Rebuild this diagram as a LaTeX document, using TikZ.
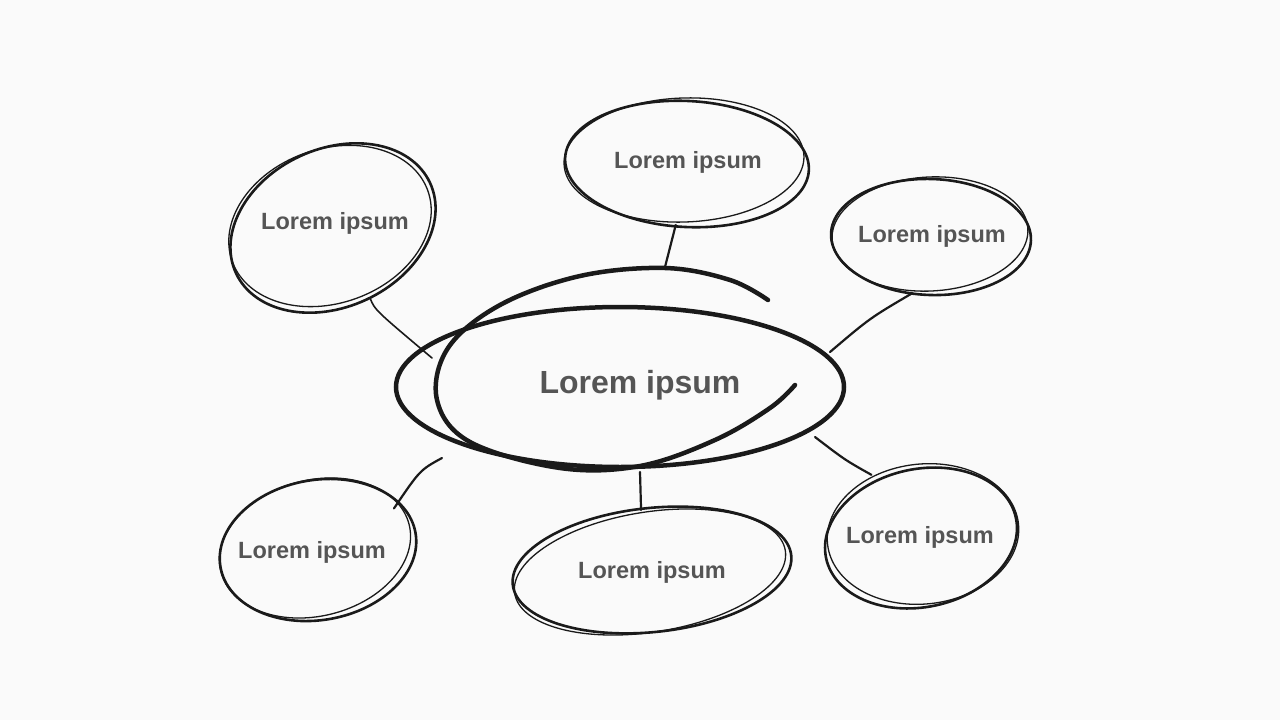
\documentclass[tikz,border=0pt]{standalone}
\usepackage{fontspec}
\setmainfont{Liberation Sans}
\usetikzlibrary{shapes.geometric}
\definecolor{bg}{HTML}{FAFAFA}
\definecolor{ink}{HTML}{1A1A1A}
\definecolor{txt}{HTML}{555555}
\begin{document}
\begin{tikzpicture}[x=1pt,y=-1pt,
  sat/.style={ellipse,inner sep=0pt,font=\bfseries\fontsize{23.5}{27}\selectfont,text=txt},
  stroke/.style={draw=ink,line width=2.6pt},
  thin/.style={draw=ink,line width=1.3pt},
  conn/.style={draw=ink,line width=2.2pt,line cap=round}]
\fill[bg] (0,0) rectangle (1280,720);
\useasboundingbox (0,0) rectangle (1280,720);
% center
\node[ellipse,minimum width=440pt,minimum height=160pt,inner sep=0pt,font=\bfseries\fontsize{32}{36}\selectfont,text=txt] (c) at (640,385) {Lorem ipsum};
\draw[draw=ink,line width=4.5pt] (620,387) ellipse [x radius=224,y radius=80];
\draw[draw=ink,line width=4.5pt,line cap=round] plot[smooth,tension=0.6] coordinates {(768,300)(730,280)(665,268)(580,276)(500,305)(448,348)(437,400)(470,442)(560,468)(640,466)(715,440)(770,408)(795,385)};
% satellites
\node[sat,minimum width=214pt,minimum height=160pt] (s1) at (335,223) {Lorem ipsum};
\draw[stroke,rotate around={25:(333,228)}] (333,228) ellipse [x radius=107,y radius=79];
\draw[thin,rotate around={20:(330,226)}] (330,226) ellipse [x radius=104,y radius=77];

\node[sat,minimum width=244pt,minimum height=126pt] (s2) at (688,162) {Lorem ipsum};
\draw[stroke,rotate around={-3:(687,164)}] (687,164) ellipse [x radius=122,y radius=63];
\draw[thin,rotate around={2:(684,160)}] (684,160) ellipse [x radius=120,y radius=62];

\node[sat,minimum width=200pt,minimum height=116pt] (s3) at (932,236) {Lorem ipsum};
\draw[stroke,rotate around={-2:(931,237)}] (931,237) ellipse [x radius=100,y radius=58];
\draw[thin,rotate around={3:(930,234)}] (930,234) ellipse [x radius=98,y radius=57];

\node[sat,minimum width=200pt,minimum height=140pt] (s4) at (312,552) {Lorem ipsum};
\draw[stroke,rotate around={10:(318,550)}] (318,550) ellipse [x radius=99,y radius=70];
\draw[thin,rotate around={14:(315,548)}] (315,548) ellipse [x radius=97,y radius=68];

\node[sat,minimum width=280pt,minimum height=124pt] (s5) at (652,572) {Lorem ipsum};
\draw[stroke,rotate around={6:(652,570)}] (652,570) ellipse [x radius=140,y radius=62];
\draw[thin,rotate around={9:(650,572)}] (650,572) ellipse [x radius=137,y radius=60];

\node[sat,minimum width=194pt,minimum height=140pt] (s6) at (920,537) {Lorem ipsum};
\draw[stroke,rotate around={12:(921,538)}] (921,538) ellipse [x radius=97,y radius=69];
\draw[thin,rotate around={6:(923,534)}] (923,534) ellipse [x radius=96,y radius=70];
% connector ends on the center shape
\coordinate (e1) at (432,358);
\coordinate (e2) at (665,267);
\coordinate (e3) at (830,352);
\coordinate (e4) at (442,458);
\coordinate (e5) at (640,472);
\coordinate (e6) at (815,437);
% connectors
\draw[conn,line width=1.6pt] (s1.-65) .. controls (375,310) .. (e1);
\draw[conn] (s2.-101) -- (e2);
\draw[conn] (s3.-109) .. controls (870,318) .. (e3);
\draw[conn] (s4.28) .. controls (420,470) .. (e4);
\draw[conn] (s5.100) -- (e5);
\draw[conn] (s6.128) .. controls (845,460) .. (e6);
\end{tikzpicture}
\end{document}
